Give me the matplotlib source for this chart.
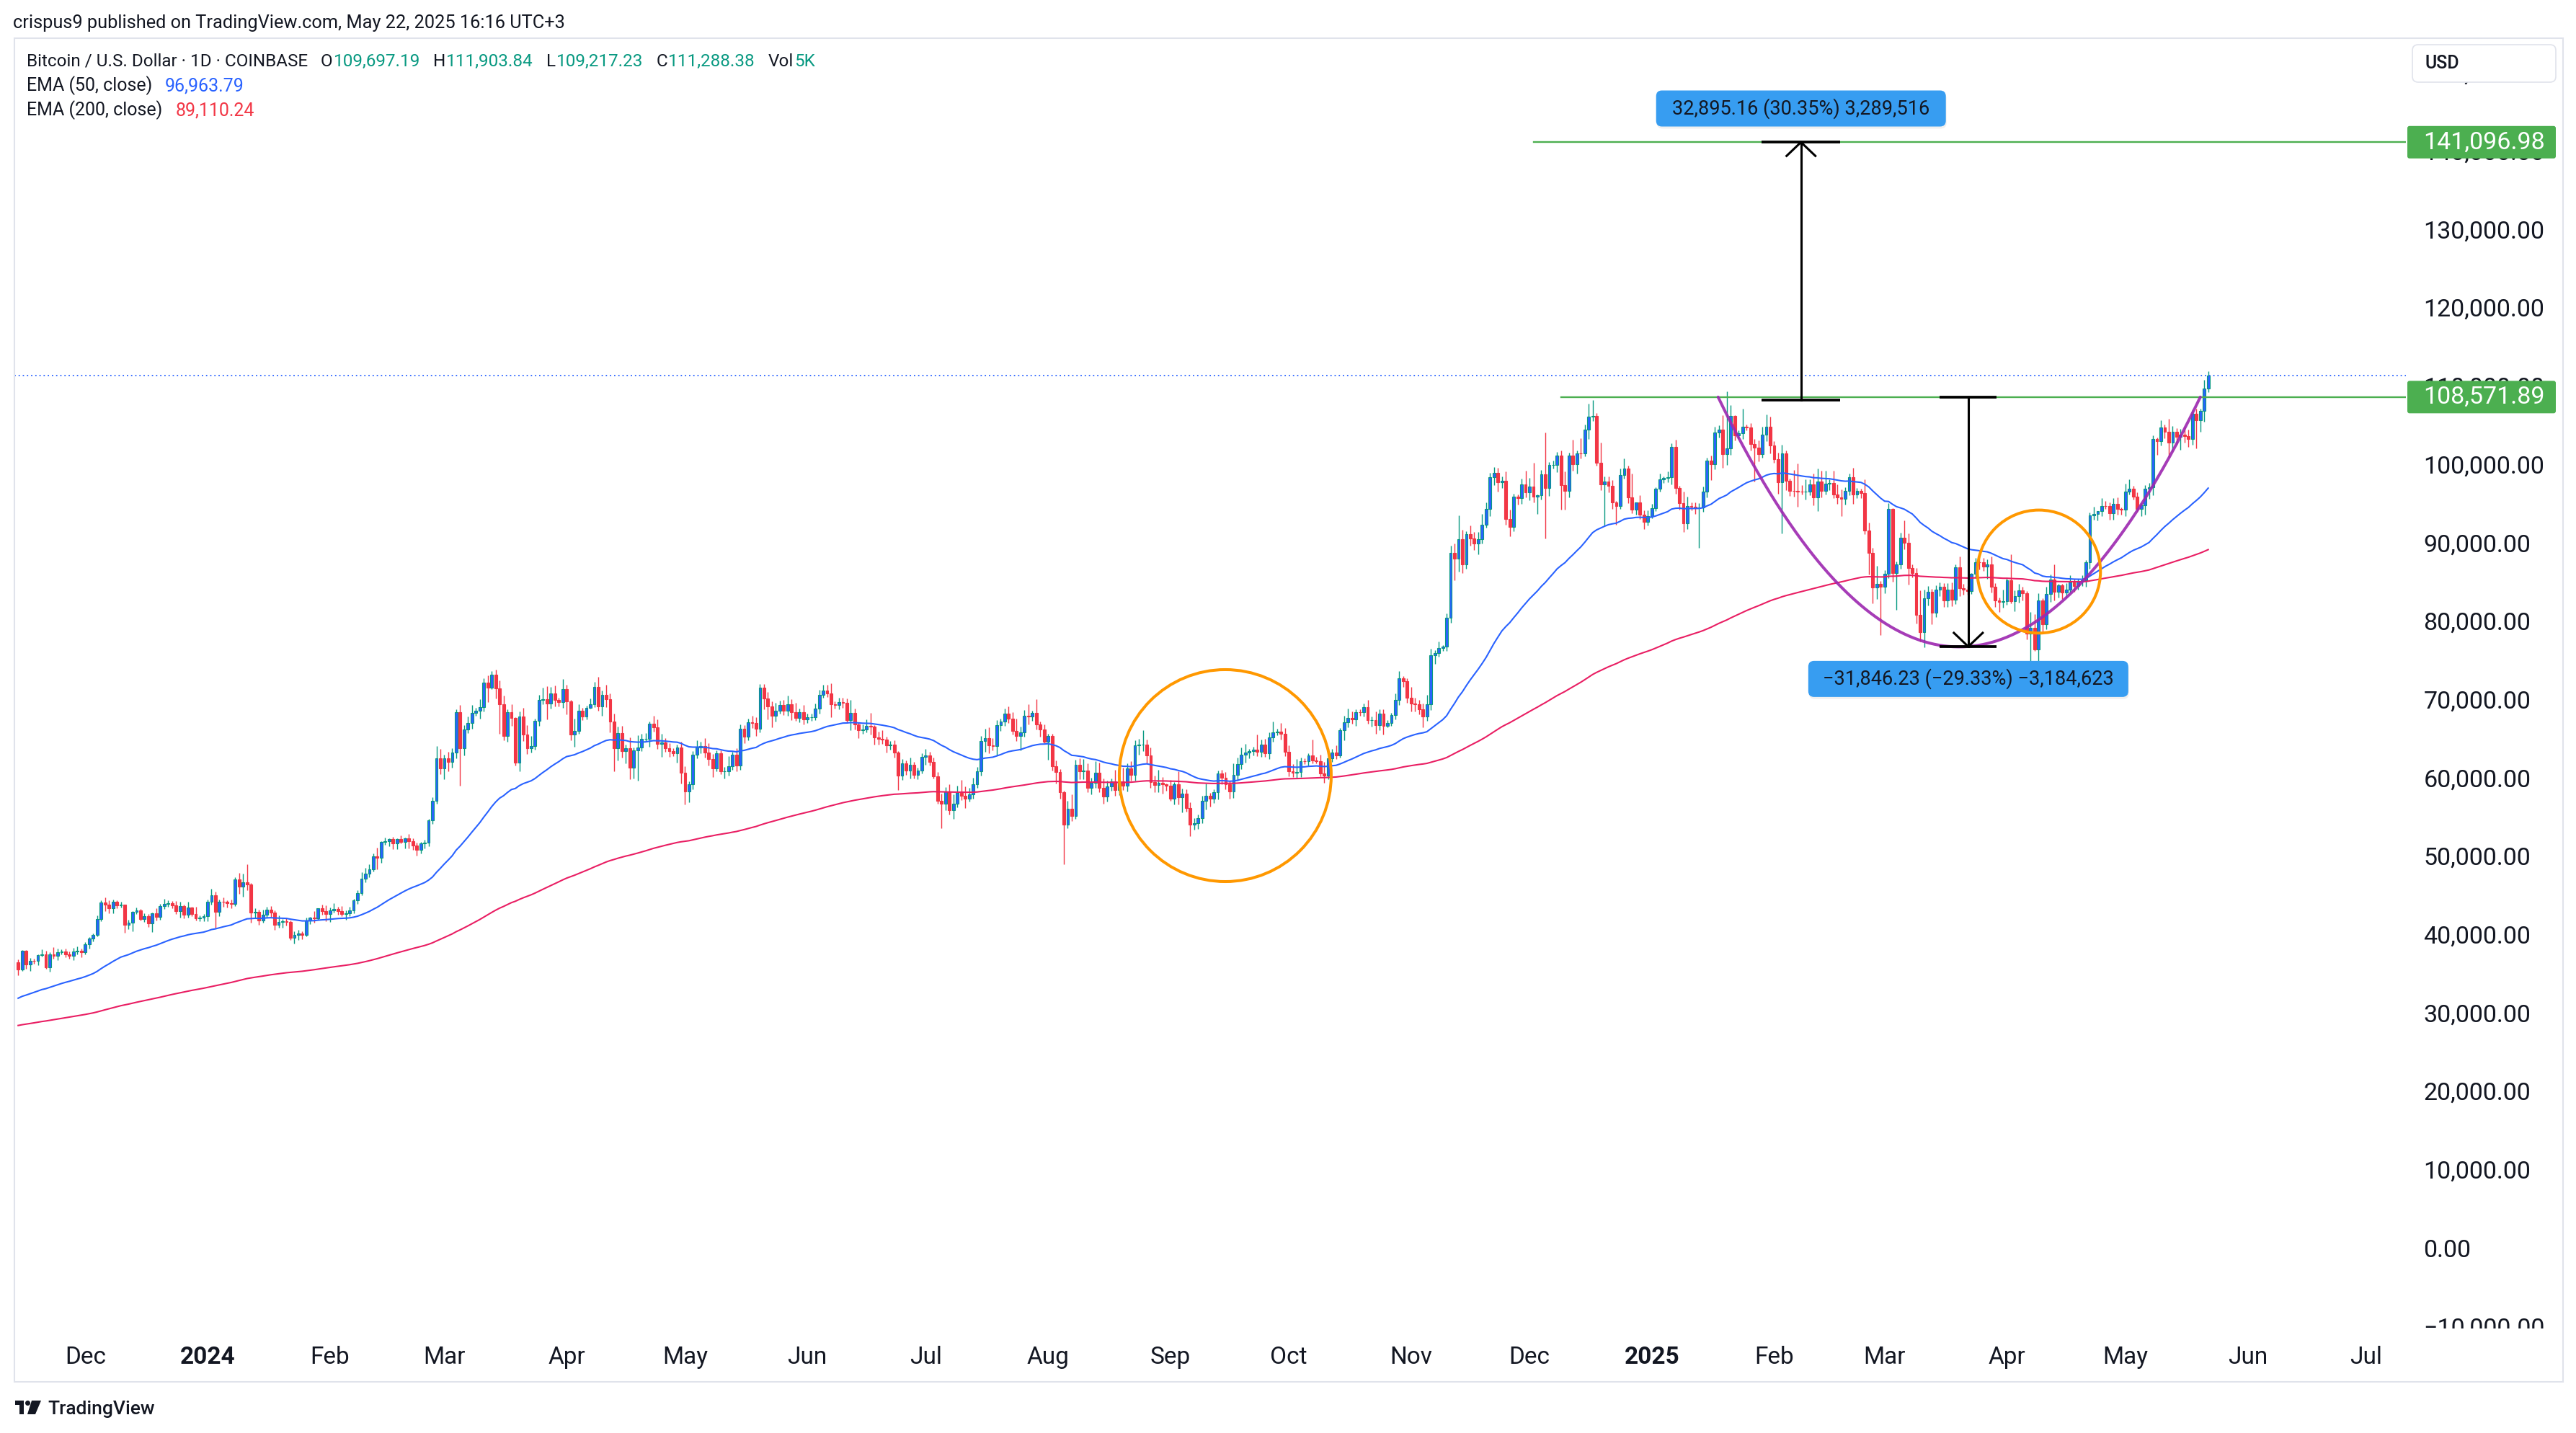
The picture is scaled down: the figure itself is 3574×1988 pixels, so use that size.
import matplotlib
matplotlib.use('Agg')
import matplotlib.pyplot as plt
import matplotlib.dates as mdates
from matplotlib.patches import Ellipse, FancyBboxPatch, Rectangle, Polygon, Circle
from matplotlib.transforms import IdentityTransform
import numpy as np
from datetime import date

W, H = 3574, 1988
plt.rcParams['font.family'] = ['Roboto', 'DejaVu Sans']

DARK = '#131722'
TEAL = '#089981'
UPFILL = '#2962ff'
RED = '#f23645'
EMA50_C = '#2962ff'
EMA200_C = '#e91e63'
GREEN = '#4caf50'
BOXBLUE = '#379df1'

# ---- daily BTC/USD candles (Coinbase, 1D) ----
start_day = date(2023, 11, 14)
first_open = 36.46   # thousands USD
# closes, thousands USD
closes = [
    # Nov 2023 (from 14th)
    35.55, 37.88, 36.16, 36.60, 36.58, 37.38, 37.47, 35.81, 37.42, 37.29, 37.72, 37.80, 37.48, 37.25, 37.83, 37.86, 37.72,
    # Dec 2023
    38.69, 39.46, 39.97, 41.98, 44.08, 43.77, 43.29, 44.17, 43.72, 43.79,
    41.24, 41.45, 42.89, 43.02, 41.94, 42.28, 41.36, 42.66, 42.27, 43.65,
    43.86, 43.99, 43.72, 43.01, 43.58, 42.52, 43.44, 42.59, 42.07, 42.14, 42.28,
    # Jan 2024
    44.18, 44.95, 42.85, 44.18, 44.16, 43.97, 43.93, 46.97, 46.11, 46.63,
    46.34, 42.78, 42.84, 41.80, 42.51, 43.15, 42.74, 41.26, 41.62, 41.67,
    41.55, 39.56, 39.90, 40.08, 39.94, 41.80, 42.12, 42.03, 43.30, 42.94, 42.58,
    # Feb
    43.08, 43.20, 43.01, 42.58, 42.66, 43.09, 44.34, 45.29, 47.15, 47.77,
    48.29, 49.96, 49.74, 51.83, 51.92, 52.15, 51.64, 52.13, 51.78, 52.28,
    51.85, 51.32, 50.74, 51.57, 51.73, 54.52, 57.08, 62.50, 61.20,
    # Mar
    62.44, 62.03, 63.17, 68.33, 63.80, 66.11, 66.93, 68.30, 68.50, 69.02,
    72.12, 71.48, 73.10, 71.40, 69.40, 65.30, 68.39, 67.60, 61.94, 67.84,
    65.50, 63.80, 64.06, 67.21, 69.96, 69.99, 69.45, 70.78, 69.89, 69.65, 71.33,
    # Apr
    69.70, 65.48, 65.95, 68.50, 67.84, 68.90, 69.36, 71.62, 69.13, 70.59,
    70.01, 67.19, 63.80, 65.70, 63.42, 63.79, 61.28, 63.47, 63.82, 64.94,
    64.96, 66.84, 66.41, 64.29, 64.50, 63.76, 63.43, 63.11, 63.84, 60.64,
    # May
    58.25, 59.12, 62.89, 63.89, 64.01, 63.16, 62.33, 61.19, 63.08, 60.80,
    60.83, 61.50, 62.94, 61.58, 66.23, 65.23, 67.05, 66.94, 66.28, 71.45,
    70.14, 69.12, 67.93, 68.53, 69.26, 68.50, 69.39, 68.33, 67.63, 68.36, 67.48,
    # Jun
    67.75, 67.75, 68.80, 70.57, 71.08, 70.79, 69.34, 69.30, 69.65, 69.51,
    67.33, 68.26, 66.76, 66.01, 66.19, 66.64, 66.49, 65.15, 64.96, 64.83,
    64.10, 64.25, 63.18, 60.28, 61.80, 60.86, 61.68, 60.32, 60.89, 62.68,
    # Jul
    62.85, 62.03, 60.20, 57.06, 56.66, 58.23, 55.85, 56.70, 58.04, 57.72,
    57.34, 57.89, 59.20, 60.79, 64.72, 65.04, 64.08, 63.99, 66.68, 67.15,
    68.17, 67.55, 65.94, 65.36, 65.80, 67.90, 67.81, 68.23, 66.78, 66.19, 64.62,
    # Aug
    65.35, 61.46, 60.69, 58.11, 53.99, 56.03, 55.12, 61.68, 60.84, 60.92,
    58.71, 59.34, 60.59, 58.72, 57.56, 58.87, 59.48, 58.45, 59.49, 59.01,
    61.16, 60.38, 64.09, 64.18, 64.26, 62.84, 59.42, 59.03, 59.37, 59.12, 58.97,
    # Sep
    57.30, 59.13, 57.48, 57.97, 56.16, 53.96, 54.16, 54.87, 57.05, 57.64,
    57.34, 58.13, 60.57, 60.00, 59.13, 58.21, 60.31, 61.76, 62.95, 63.20,
    63.35, 63.58, 63.33, 64.26, 63.14, 65.18, 65.79, 65.88, 65.60, 63.33,
    # Oct
    60.80, 60.65, 60.75, 62.08, 62.06, 62.82, 62.22, 62.13, 60.58, 60.27,
    62.45, 63.20, 62.85, 66.06, 67.04, 67.62, 67.40, 68.40, 68.36, 69.00,
    67.37, 67.38, 66.66, 68.16, 66.64, 67.01, 67.97, 69.91, 72.72, 72.34, 70.22,
    # Nov
    69.48, 69.35, 68.76, 67.81, 69.36, 75.64, 75.90, 76.54, 76.70, 80.40,
    88.70, 87.95, 90.44, 87.25, 91.06, 90.54, 89.84, 90.47, 92.31, 94.29,
    98.33, 98.92, 97.68, 97.90, 93.01, 91.97, 95.86, 95.64, 97.45, 96.41,
    # Dec
    97.19, 95.85, 96.00, 98.75, 96.99, 99.88, 99.90, 101.11, 97.35, 96.59,
    101.13, 100.00, 101.42, 101.40, 104.46, 106.05, 106.13, 100.20, 97.46, 97.76,
    97.22, 95.10, 94.69, 98.64, 99.41, 95.75, 94.16, 95.16, 93.53, 92.64, 93.39,
    # Jan 2025
    94.40, 96.89, 98.11, 98.22, 98.35, 102.21, 96.94, 95.04, 92.48, 94.70,
    94.57, 94.49, 94.50, 96.54, 100.50, 99.99, 104.08, 104.46, 101.30, 102.03,
    106.15, 103.65, 103.96, 104.82, 104.71, 102.58, 102.08, 101.33, 103.73, 104.74, 102.40,
    # Feb
    100.64, 97.69, 101.41, 97.87, 96.62, 96.56, 96.53, 96.48, 96.51, 97.43,
    95.76, 97.83, 96.60, 97.51, 97.57, 96.14, 95.77, 95.54, 96.63, 98.33,
    96.14, 96.57, 96.28, 91.51, 88.65, 84.26, 84.70, 84.37,
    # Mar
    86.01, 94.27, 86.12, 87.22, 90.62, 89.96, 86.74, 86.15, 80.73, 78.59,
    82.86, 83.72, 81.06, 83.97, 84.34, 82.58, 84.01, 82.72, 86.85, 84.17,
    84.04, 83.83, 86.05, 87.50, 87.45, 86.90, 87.22, 84.35, 82.62, 82.40, 82.55,
    # Apr
    85.17, 82.49, 83.16, 83.86, 83.50, 78.37, 79.14, 76.32, 82.61, 79.59,
    83.42, 85.29, 83.74, 84.56, 83.67, 84.03, 84.93, 84.45, 85.06, 85.18,
    87.50, 93.44, 93.69, 93.98, 94.71, 94.64, 93.74, 94.98, 94.26, 94.17,
    # May
    96.50, 96.88, 95.88, 94.31, 94.74, 96.83, 97.03, 103.24, 102.97, 104.70,
    104.11, 102.79, 104.16, 103.54, 103.74, 103.55, 103.19, 106.46, 105.61, 106.83,
    109.70, 111.288,
]
# upper wick above the body, hundreds USD
wick_up = [
    3, 1, 1, 4, 3, 1, 6, 4, 3, 9, 5, 3, 4, 3, 4, 6, 3,
    3, 2, 1, 4, 3, 6, 6, 3, 2, 4, 0, 4, 1, 4, 2, 4, 3, 1, 7, 2, 7, 4, 3, 5, 6, 2, 7, 1, 9, 3, 3,
    3, 9, 5, 3, 5, 2, 5, 3, 9, 11, 23, 2, 5, 3, 6, 4, 5, 3, 8, 3, 5, 2, 5, 5, 3, 3, 1, 8, 0, 5, 8,
    3, 8, 3, 6, 4, 4, 2, 3, 8, 7, 7, 4, 11, 1, 4, 1, 3, 1, 5, 1, 5, 4, 4, 2, 3, 2, 4, 15, 12,
    5, 9, 6, 4, 9, 6, 9, 10, 4, 10, 6, 9, 5, 7, 10, 11, 3, 10, 1, 6, 11, 12, 13, 3, 6, 15, 17, 8, 10, 3, 13,
    5, 2, 16, 9, 4, 3, 7, 6, 12, 5, 13, 7, 10, 8, 9, 4, 13, 4, 16, 7, 7, 3, 11, 10, 11, 5, 6, 3, 4, 7,
    8, 4, 5, 9, 6, 10, 12, 7, 4, 4, 5, 12, 4, 8, 6, 5, 5, 8, 8, 5, 5, 8, 6, 10, 6, 7, 11, 6, 12, 5, 9,
    4, 4, 7, 6, 8, 8, 12, 4, 5, 5, 6, 17, 6, 3, 6, 8, 16, 2, 7, 11, 4, 4, 5, 2, 6, 4, 9, 3, 4, 4,
    8, 4, 5, 5, 9, 6, 9, 12, 9, 17, 12, 8, 8, 6, 6, 12, 14, 10, 7, 4, 6, 9, 8, 16, 7, 7, 15, 3, 18, 4, 6,
    2, 2, 7, 4, 2, 10, 18, 6, 8, 15, 9, 6, 15, 13, 12, 7, 4, 15, 7, 18, 7, 9, 7, 8, 18, 6, 10, 8, 16, 7, 1,
    7, 3, 17, 6, 5, 7, 7, 4, 6, 16, 4, 4, 3, 4, 7, 5, 15, 8, 9, 11, 3, 4, 19, 6, 7, 6, 14, 4, 11, 7,
    8, 9, 16, 5, 4, 3, 20, 4, 8, 14, 5, 5, 9, 3, 9, 12, 8, 3, 3, 5, 9, 4, 11, 6, 6, 3, 3, 8, 9, 2, 3,
    14, 7, 6, 7, 12, 8, 4, 8, 2, 6, 9, 12, 30, 12, 4, 11, 8, 9, 13, 8, 6, 7, 6, 5, 12, 12, 4, 3, 7, 17,
    11, 30, 1, 5, 53, 4, 6, 5, 6, 17, 3, 20, 3, 19, 6, 17, 21, 4, 26, 7, 7, 8, 2, 8, 13, 4, 31, 0, 9, 6, 7,
    5, 2, 7, 2, 7, 5, 9, 3, 15, 12, 4, 6, 5, 6, 3, 6, 7, 5, 18, 73, 14, 1, 4, 23, 2, 5, 6, 10, 11, 16, 13,
    5, 8, 11, 3, 3, 26, 35, 8, 16, 6, 14, 16, 13, 17, 5, 16, 13, 10, 4, 5, 12, 4, 3, 18, 10, 7, 23, 4,
    5, 8, 1, 4, 6, 22, 12, 5, 6, 32, 11, 7, 4, 6, 6, 5, 8, 9, 4, 14, 6, 4, 1, 5, 4, 6, 6, 10, 5, 4, 14,
    3, 33, 7, 9, 5, 3, 20, 17, 9, 3, 9, 6, 19, 2, 2, 8, 9, 4, 3, 7, 3, 4, 9, 0, 10, 6, 5, 7, 8, 2,
    10, 12, 4, 5, 3, 5, 6, 4, 2, 9, 4, 17, 7, 4, 8, 10, 9, 5, 6, 3, 11, 6,
]
# lower wick below the body, hundreds USD
wick_dn = [
    8, 2, 6, 8, 3, 5, 2, 2, 6, 4, 6, 3, 4, 4, 5, 4, 6,
    3, 5, 4, 2, 3, 8, 6, 6, 4, 3, 10, 6, 11, 3, 2, 4, 4, 11, 5, 4, 4, 3, 4, 4, 9, 5, 4, 3, 3, 4, 5,
    6, 4, 21, 5, 6, 5, 6, 3, 9, 13, 7, 13, 6, 6, 3, 4, 5, 7, 4, 8, 4, 3, 7, 6, 6, 2, 5, 5, 2, 4, 9,
    10, 3, 5, 3, 7, 3, 4, 5, 3, 5, 5, 3, 14, 6, 4, 7, 8, 8, 2, 8, 9, 5, 7, 4, 6, 5, 4, 4, 8,
    14, 12, 8, 7, 48, 10, 4, 7, 4, 10, 6, 18, 2, 13, 38, 5, 7, 10, 4, 11, 8, 8, 6, 5, 6, 6, 20, 6, 8, 6, 7,
    16, 7, 15, 4, 5, 4, 1, 4, 6, 12, 10, 14, 30, 16, 9, 16, 15, 14, 39, 4, 4, 10, 5, 6, 16, 5, 8, 4, 12, 14,
    17, 14, 6, 4, 8, 6, 8, 11, 4, 4, 9, 6, 5, 8, 6, 8, 5, 6, 10, 5, 14, 17, 15, 8, 4, 5, 6, 10, 4, 6, 7,
    5, 5, 4, 6, 4, 5, 16, 5, 6, 6, 4, 13, 6, 10, 4, 4, 10, 9, 7, 5, 9, 5, 6, 19, 6, 5, 10, 4, 5, 4,
    10, 5, 3, 4, 31, 8, 6, 11, 5, 6, 12, 4, 6, 5, 5, 14, 10, 5, 12, 7, 5, 6, 4, 7, 19, 6, 10, 6, 6, 10, 2,
    23, 6, 14, 8, 50, 4, 7, 4, 10, 10, 6, 8, 6, 6, 9, 6, 5, 8, 7, 6, 8, 8, 8, 12, 8, 10, 7, 9, 9, 12, 6,
    3, 7, 9, 19, 5, 14, 6, 7, 7, 11, 10, 6, 9, 8, 6, 9, 8, 7, 7, 10, 7, 5, 6, 7, 5, 8, 6, 4, 7, 6,
    6, 6, 8, 7, 3, 5, 4, 3, 4, 9, 5, 4, 5, 3, 13, 6, 5, 8, 5, 6, 5, 9, 11, 6, 11, 2, 4, 5, 6, 8, 7,
    10, 9, 7, 14, 6, 7, 11, 5, 4, 5, 6, 28, 17, 11, 6, 9, 8, 13, 6, 4, 9, 10, 12, 7, 7, 12, 5, 8, 7, 6,
    10, 7, 22, 5, 65, 10, 4, 9, 31, 24, 8, 8, 12, 7, 4, 12, 5, 4, 8, 53, 8, 8, 24, 4, 5, 7, 4, 6, 5, 9, 5,
    3, 4, 4, 5, 5, 9, 7, 8, 11, 8, 5, 8, 52, 6, 8, 20, 6, 7, 18, 14, 8, 6, 4, 7, 4, 8, 43, 10, 5, 8, 10,
    5, 15, 65, 12, 7, 7, 20, 3, 10, 5, 10, 17, 8, 5, 8, 5, 8, 22, 7, 6, 12, 5, 6, 4, 27, 20, 15, 62,
    8, 5, 11, 47, 6, 8, 21, 6, 11, 12, 20, 9, 15, 6, 8, 8, 8, 8, 6, 10, 7, 5, 4, 6, 9, 5, 15, 7, 8, 13, 7,
    5, 2, 13, 8, 9, 7, 39, 1, 17, 12, 7, 10, 11, 8, 9, 7, 4, 7, 5, 6, 8, 8, 5, 9, 6, 3, 8, 8, 7, 6,
    8, 4, 4, 4, 9, 12, 12, 10, 18, 6, 8, 20, 11, 11, 17, 8, 10, 7, 36, 15, 14, 5,
]
ema50_seed = 31700.0    # EMA values just before the first visible bar
ema200_seed = 28300.0

# drawn levels and measurements
level_top = 141096.98
level_neck = 108571.89
last_price = 111288.38
up_base = 108201.82
down_low = 76725.66
up_label = '32,895.16 (30.35%) 3,289,516'
down_label = '\u221231,846.23 (\u221229.33%) \u22123,184,623'

assert len(closes) == len(wick_up) == len(wick_dn)

# ---- prepare OHLC ----
c = np.array(closes) * 1000.0
o = np.concatenate([[first_open * 1000.0], c[:-1]])
hi = np.maximum(o, c) + np.array(wick_up) * 100.0
lo = np.minimum(o, c) - np.array(wick_dn) * 100.0
x = mdates.date2num(start_day) + np.arange(len(c))
up = c >= o

def ema(vals, seed, n):
    a = 2.0 / (n + 1)
    out, e = [], seed
    for v in vals:
        e = e + a * (v - e)
        out.append(e)
    return np.array(out)

ema50 = ema(c, ema50_seed, 50)
ema200 = ema(c, ema200_seed, 200)

d0 = mdates.date2num(date(2024, 1, 1))
def dd(k):
    return d0 + k

# ---- figure / axes ----
fig = plt.figure(figsize=(W / 100, H / 100), dpi=100)
fig.patch.set_facecolor('white')
AX_L, AX_R, AX_T, AX_B = 20, 3338, 53, 1843
ax = fig.add_axes([AX_L / W, 1 - AX_B / H, (AX_R - AX_L) / W, (AX_B - AX_T) / H])
ax.set_facecolor('white')
for s in ax.spines.values():
    s.set_visible(False)

ax.set_xlim(dd(-48.95), dd(557.1))
ax.set_ylim(-10300, 154370)

# candles
ax.vlines(x[up], lo[up], hi[up], color=TEAL, lw=1.0, zorder=2)
ax.vlines(x[~up], lo[~up], hi[~up], color=RED, lw=1.0, zorder=2)
ax.bar(x[up], (c - o)[up], bottom=o[up], width=0.7, color=UPFILL, edgecolor=TEAL, linewidth=0.8, zorder=3)
ax.bar(x[~up], (o - c)[~up], bottom=c[~up], width=0.7, color=RED, edgecolor=RED, linewidth=0.8, zorder=3)

ax.plot(x, ema50, color=EMA50_C, lw=1.5, zorder=4)
ax.plot(x, ema200, color=EMA200_C, lw=1.5, zorder=4)

# levels
xr = dd(557.1)
ax.plot([dd(336), xr], [level_top, level_top], color=GREEN, lw=1.7, zorder=5)
ax.plot([dd(343), xr], [level_neck, level_neck], color=GREEN, lw=1.7, zorder=5)
ax.axhline(last_price, color='#2962ff', lw=1.3, linestyle=(0, (1, 2.2)), zorder=5)

# cup curve
px_ = [dd(382.8), dd(446.0), dd(505.0)]
py_ = [level_neck, down_low, level_neck]
coef = np.polyfit(px_, py_, 2)
cx = np.linspace(px_[0], px_[2], 300)
ax.plot(cx, np.polyval(coef, cx), color='#9c27b0', lw=2.9, alpha=0.9, zorder=6, solid_capstyle='round')

# circles
ax.add_patch(Ellipse((dd(257.9), 60260), 53.7, 27050, fill=False, ec='#ff9800', lw=2.9, zorder=6))
ax.add_patch(Ellipse((dd(464.1), 86300), 31.2, 15700, fill=False, ec='#ff9800', lw=2.9, zorder=6))

# measure arrows
def measure(xc, y0, y1, half, head_up):
    ax.plot([xc, xc], [y0, y1], color='black', lw=2.2, zorder=7)
    for yy in (y0, y1):
        ax.plot([xc - half, xc + half], [yy, yy], color='black', lw=2.7, solid_capstyle='butt', zorder=7)
    tip = y1
    dy = 1750 if head_up else -1750
    ax.plot([xc - 3.65, xc, xc + 3.65], [tip - dy, tip, tip - dy], color='black', lw=2.2,
            solid_joinstyle='miter', zorder=7)

measure(dd(403.8), up_base, level_top, 10.0, True)
measure(dd(446.2), level_neck, down_low, 7.2, False)

fig.canvas.draw()
r = fig.canvas.get_renderer()

def tod(xv, yv):
    return ax.transData.transform((xv, yv))

def label_box(xv, yv, w, h, text):
    cxp, cyp = tod(xv, yv)
    shadow = FancyBboxPatch((cxp - w / 2 + 1, cyp - h / 2 - 3), w, h, boxstyle='round,pad=0,rounding_size=8',
                            transform=IdentityTransform(), fc='#000000', ec='none', alpha=0.06, zorder=7.5)
    box = FancyBboxPatch((cxp - w / 2, cyp - h / 2), w, h, boxstyle='round,pad=0,rounding_size=8',
                         transform=IdentityTransform(), fc=BOXBLUE, ec='none', zorder=8)
    ax.add_artist(shadow)
    ax.add_artist(box)
    ax.text(cxp / W, cyp / H, text, transform=fig.transFigure, ha='center', va='center',
            fontsize=19.5, color=DARK, zorder=9)

label_box(dd(403.8), 145400, 402, 50, up_label)
label_box(dd(446.2), 72600, 444, 50, down_label)

# ---- price scale ----
yt = list(range(-10000, 150001, 10000))
ax.yaxis.tick_right()
ax.set_yticks(yt)
ax.set_yticklabels([f'{v:,.2f}'.replace('-', '\u2212') for v in yt])
ax.tick_params(axis='y', length=0, pad=17.5, labelsize=24.5, labelcolor=DARK)

# ---- time scale ----
months = [(2023, 12), (2024, 1), (2024, 2), (2024, 3), (2024, 4), (2024, 5), (2024, 6), (2024, 7),
          (2024, 8), (2024, 9), (2024, 10), (2024, 11), (2024, 12), (2025, 1), (2025, 2), (2025, 3),
          (2025, 4), (2025, 5), (2025, 6), (2025, 7)]
mnames = ['Dec', '2024', 'Feb', 'Mar', 'Apr', 'May', 'Jun', 'Jul', 'Aug', 'Sep', 'Oct', 'Nov',
          'Dec', '2025', 'Feb', 'Mar', 'Apr', 'May', 'Jun', 'Jul']
ax.set_xticks([mdates.date2num(date(yy, mm, 1)) for yy, mm in months])
ax.set_xticklabels(mnames)
ax.tick_params(axis='x', length=0, pad=17, labelsize=24, labelcolor=DARK)
for t in ax.get_xticklabels():
    if t.get_text() in ('2024', '2025'):
        t.set_fontweight('bold')

# ---- figure-level decorations (pixel coords, y from top) ----
def fy(y):
    return H - y

fig.add_artist(Rectangle((20, fy(1917)), 3536, 1917 - 53, transform=IdentityTransform(),
                         fill=False, ec='#e0e3eb', lw=1.5, zorder=0.5))
# clip the lowest price label at the pane edge
fig.add_artist(Rectangle((3340, fy(1915)), 214, 1915 - AX_B, transform=IdentityTransform(),
                         fc='white', ec='none', zorder=1))

def price_tag(p, text):
    yp = tod(xr, p)[1]
    fig.add_artist(FancyBboxPatch((3340, yp - 22.5), 206, 45, boxstyle='round,pad=0,rounding_size=3',
                                  transform=IdentityTransform(), fc=GREEN, ec='none', zorder=1.5))
    fig.text(3362 / W, yp / H, text, color='white', fontsize=24.5, ha='left', va='center', zorder=4)

price_tag(level_top, '141,096.98')
price_tag(level_neck, '108,571.89')

fig.add_artist(FancyBboxPatch((3347, fy(114)), 199, 52, boxstyle='round,pad=0,rounding_size=8',
                              transform=IdentityTransform(), fc='white', ec='#e0e3eb', lw=1.2, zorder=1.5))
fig.text(3365 / W, 1 - 88 / H, 'USD', color=DARK, fontsize=18, ha='left', va='center',
         fontweight='medium', zorder=4)

def seq_text(x0, y0, parts, size):
    xx = x0
    for s, col, gap in parts:
        t = fig.text(xx / W, 1 - y0 / H, s, color=col, fontsize=size, ha='left', va='center', zorder=4)
        xx += t.get_window_extent(r).width + gap

fig.text(18 / W, 1 - 32 / H, 'crispus9 published on TradingView.com, May 22, 2025 16:16 UTC+3',
         color=DARK, fontsize=18.3, ha='left', va='center')
seq_text(37, 85, [('Bitcoin / U.S. Dollar \u00b7 1D \u00b7 COINBASE', DARK, 18),
                  ('O', DARK, 1), ('109,697.19', TEAL, 18),
                  ('H', DARK, 1), ('111,903.84', TEAL, 18),
                  ('L', DARK, 1), ('109,217.23', TEAL, 18),
                  ('C', DARK, 1), ('111,288.38', TEAL, 18),
                  ('Vol', DARK, 1), ('5K', TEAL, 0)], 17.5)
seq_text(37, 119, [('EMA (50, close)', DARK, 18), ('96,963.79', EMA50_C, 0)], 18)
seq_text(37, 153, [('EMA (200, close)', DARK, 18), ('89,110.24', RED, 0)], 18)

# TradingView logo + wordmark
fig.add_artist(Rectangle((21, fy(1949)), 12, 6, transform=IdentityTransform(), fc=DARK, ec='none'))
fig.add_artist(Rectangle((27, fy(1962)), 6, 19, transform=IdentityTransform(), fc=DARK, ec='none'))
fig.add_artist(Circle((38.5, fy(1946.5)), 3.5, transform=IdentityTransform(), fc=DARK, ec='none'))
fig.add_artist(Polygon([(44, fy(1943)), (57, fy(1943)), (49, fy(1962)), (38, fy(1962))],
                       closed=True, transform=IdentityTransform(), fc=DARK, ec='none'))
fig.text(66 / W, 1 - 1955 / H, 'TradingView', color=DARK, fontsize=19, fontweight='medium',
         ha='left', va='center')

fig.savefig('out.png', dpi=100, facecolor='white')
